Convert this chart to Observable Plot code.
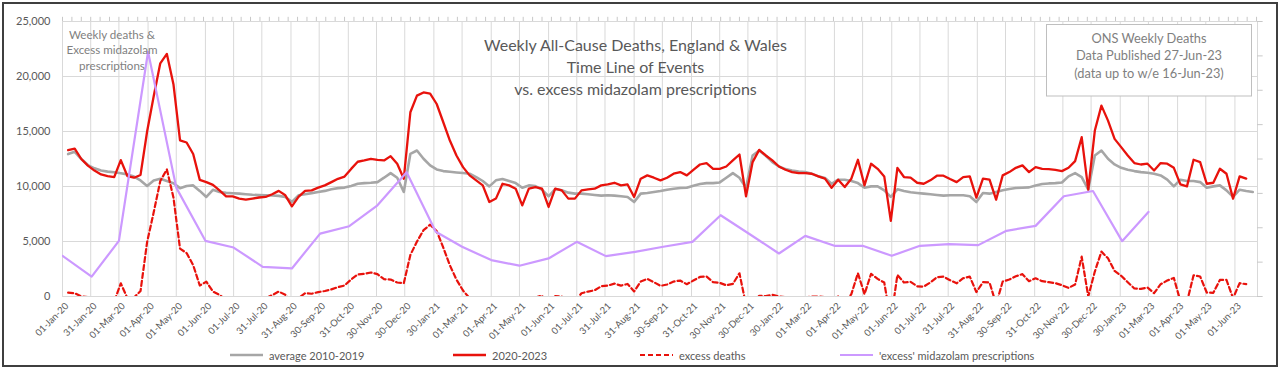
<!DOCTYPE html>
<html>
<head>
<meta charset="utf-8">
<script src="https://cdn.jsdelivr.net/npm/d3@7"></script>
<script src="https://cdn.jsdelivr.net/npm/@observablehq/plot@0.6"></script>
<style>
  html, body { margin: 0; padding: 0; background: #fff; }
  #wrap { position: relative; width: 1280px; height: 369px; overflow: hidden; font-family: Lato, sans-serif; }
  #chart { position: absolute; left: 0; top: 0; }
  #frame { position: absolute; left: 2px; top: 2px; width: 1276px; height: 365px; box-sizing: border-box; border: 2px solid #3f3f3f; pointer-events: none; }
  #legend { position: absolute; left: 0; top: 345px; width: 1280px; height: 20px; font-size: 11px; color: #595959; }
  #legend .item { position: absolute; top: 0; height: 20px; display: flex; align-items: center; white-space: nowrap; }
  #legend svg { margin-right: 6px; }
  #notes { position: absolute; left: 0; top: 0; pointer-events: none; }
</style>
</head>
<body>
<div id="wrap">
  <div id="chart"></div>
  <svg id="notes" width="1280" height="345"></svg>
  <div id="legend"></div>
  <div id="frame"></div>
</div>
<script>
// ---------------- data ----------------
// weekly registrations, first week ending 10-Jan-2020
const firstWeekEnding = "2020-01-10";

const deaths2020to2023 = [
  13300,13450,12500,11900,11450,11100,10950,10850,12400,10950,
  10800,11050,15000,18200,21200,22050,19300,14200,14000,12950,
  10600,10400,10150,9650,9100,9100,8900,8800,8900,9000,
  9050,9300,9600,9200,8200,9050,9600,9650,9900,10100,
  10400,10700,10900,11600,12250,12370,12520,12430,12370,12760,
  12070,10710,16750,18260,18550,18450,17500,15840,14180,12820,
  11760,11010,10560,10100,8590,8900,10250,10100,9800,8290,
  9800,9950,9800,8140,9800,9650,8900,8900,9650,9740,
  9800,10100,10190,10340,10100,10190,9050,10710,11010,10800,
  10560,10800,11160,11310,11010,11520,12000,12130,11610,11610,
  11820,12370,12910,9110,12220,13330,12820,12370,11820,11520,
  11310,11220,11220,11160,10920,10710,9890,10620,9950,10710,
  12430,10100,12070,11610,10920,6870,11700,10860,10800,10340,
  10250,10560,10980,10980,10680,10400,10860,10920,8990,10710,
  10620,8800,11010,11310,11700,11920,11310,11760,11610,11580,
  11520,11400,11700,12310,14480,9710,15090,17350,15990,14330,
  13580,12820,12130,12000,12070,11460,12130,12070,11700,10190,
  10010,12430,12220,10250,10340,11610,11160,8900,10920,10710
];

const average2010to2019 = [
  12950,13150,12500,11950,11650,11450,11350,11300,11200,11100,
  10900,10550,10050,10550,10700,10500,10300,9850,10050,10100,
  9600,9050,9700,9500,9420,9380,9350,9300,9250,9220,
  9200,9180,9150,9050,8600,9200,9300,9400,9500,9600,
  9750,9850,9900,10050,10250,10310,10340,10400,10800,11220,
  10800,9500,12970,13270,12520,11920,11550,11400,11340,11280,
  11220,11160,10860,10500,10010,10560,10680,10500,10310,9890,
  10100,10040,9710,9110,9770,9650,9440,9350,9350,9290,
  9230,9170,9200,9170,9110,9050,8590,9350,9410,9500,
  9590,9710,9800,9860,9890,10070,10220,10310,10310,10370,
  10800,11220,10800,9890,12820,13270,12790,12220,11820,11580,
  11460,11370,11310,11160,10920,10770,10250,10620,10620,10500,
  10310,9890,10010,10010,9650,9050,9740,9590,9470,9410,
  9350,9290,9230,9170,9200,9200,9200,9110,8590,9410,
  9350,9500,9650,9770,9860,9890,9920,10100,10220,10280,
  10310,10370,10920,11220,10860,9710,12820,13270,12520,12010,
  11700,11520,11400,11310,11250,11160,11010,10620,10010,10620,
  10500,10500,10400,9890,10010,10100,9650,9050,9710,9590,
  9500
];

const excessDeaths = [
  350,300,0,-50,-200,-350,-400,-450,1200,-150,
  -100,500,4950,7650,10500,11550,9000,4350,3950,2850,
  1000,1350,450,150,-320,-280,-450,-500,-350,-220,
  -150,120,450,150,-400,-150,300,250,400,500,
  650,850,1000,1550,2000,2060,2180,2030,1570,1540,
  1270,1210,3780,4990,6030,6530,5950,4440,2840,1540,
  540,-150,-300,-400,-1420,-1660,-430,-400,-510,-1600,
  -300,-90,90,-970,30,0,-540,-450,300,450,
  570,930,990,1170,990,1140,460,1360,1600,1300,
  970,1090,1360,1450,1120,1450,1780,1820,1300,1240,
  1020,1150,2110,-780,-600,60,30,150,0,-60,
  -150,-150,-90,0,0,-60,-360,0,-670,210,
  2120,210,2060,1600,1270,-2180,1960,1270,1330,930,
  900,1270,1750,1810,1480,1200,1660,1810,400,1300,
  1270,-700,1360,1540,1840,2030,1390,1660,1390,1300,
  1210,1030,780,1090,3620,0,2270,4080,3470,2320,
  1880,1300,730,690,820,300,1120,1450,1690,-430,
  -490,1930,1820,360,330,1510,1510,-150,1210,1120
];

// monthly 'excess' midazolam prescriptions, Jan-2020 .. Mar-2023
const firstMonth = "2020-01-01";
const midazolamExcess = [
  3700,1800,5060,22250,9900,5060,4450,2700,2550,5720,6390,8290,
  11300,5880,4520,3310,2800,3460,4970,3670,4060,4520,4970,7390,
  5660,3910,5510,4610,4610,3700,4610,4760,4670,5970,6420,9110,
  9590,5030,7690
];

const xTickLabels = [
  "01-Jan-20","31-Jan-20","01-Mar-20","01-Apr-20","01-May-20","01-Jun-20","01-Jul-20","31-Jul-20",
  "31-Aug-20","30-Sep-20","31-Oct-20","30-Nov-20","30-Dec-20","30-Jan-21","01-Mar-21","01-Apr-21",
  "01-May-21","01-Jun-21","01-Jul-21","31-Jul-21","31-Aug-21","30-Sep-21","31-Oct-21","30-Nov-21",
  "30-Dec-21","30-Jan-22","01-Mar-22","01-Apr-22","01-May-22","01-Jun-22","01-Jul-22","31-Jul-22",
  "31-Aug-22","30-Sep-22","31-Oct-22","30-Nov-22","30-Dec-22","30-Jan-23","01-Mar-23","01-Apr-23",
  "01-May-23","01-Jun-23"
];
const yTicks = [0, 5000, 10000, 15000, 20000, 25000];
// unlabeled secondary (right) axis: 8 equal divisions
const rightAxisTicks = [0, 3125, 6250, 9375, 12500, 15625, 18750, 21875, 25000];
// unlabeled secondary (top) date axis: a tick every 10 days
const topTickEveryDays = 10;

const seriesNames = ["average 2010-2019", "2020-2023", "excess deaths", "'excess' midazolam prescriptions"];
const titleLines = ["Weekly All-Cause Deaths, England & Wales", "Time Line of Events", "vs. excess midazolam prescriptions"];
const noteLines = ["Weekly deaths &", "Excess midazolam", "prescriptions"];
const boxLines = ["ONS Weekly Deaths", "Data Published 27-Jun-23", "(data up to w/e 16-Jun-23)"];

// ---------------- build tables ----------------
const parseLabel = d3.utcParse("%d-%b-%y");
const xTickDates = xTickLabels.map(parseLabel);
const xTickRows = xTickLabels.map(s => ({date: parseLabel(s), label: s}));
const xStart = new Date(Date.UTC(2020, 0, 1));
const xEnd = new Date(Date.UTC(2023, 5, 25));
const topTicks = d3.utcDay.every(1).range(xStart, xEnd).filter((d, i) => i % topTickEveryDays === 0);
const w0 = new Date(firstWeekEnding + "T00:00:00Z");
// Excel category axis centres each week in its slot: plot at mid-week
const weekPos = i => d3.utcDay.offset(w0, 7 * i - 3);
const avgRows = average2010to2019.map((v, i) => ({date: weekPos(i), value: v}));
const deathRows = deaths2020to2023.map((v, i) => ({date: weekPos(i), value: v}));
const excessRows = excessDeaths.map((v, i) => ({date: weekPos(i), value: v}));
const m0 = new Date(firstMonth + "T00:00:00Z");
const midRows = midazolamExcess.map((v, i) => ({date: d3.utcMonth.offset(m0, i), value: v}));

const colors = {avg: "#a6a6a6", deaths: "#e8120c", excess: "#e8120c", mid: "#cc99ff", grid: "#d9d9d9", text: "#595959"};

const chart = Plot.plot({
  width: 1280,
  height: 345,
  marginLeft: 62,
  marginRight: 23,
  marginTop: 21,
  marginBottom: 49,
  style: {fontFamily: "Lato, sans-serif", fontSize: "11px", color: colors.text, background: "transparent"},
  x: {type: "utc", domain: [xStart, xEnd], axis: null},
  y: {domain: [0, 25000], axis: null},
  marks: [
    Plot.gridX(xTickDates, {stroke: colors.grid, strokeOpacity: 1, strokeWidth: 1}),
    Plot.gridY(yTicks, {stroke: colors.grid, strokeOpacity: 1, strokeWidth: 1}),
    Plot.ruleX([xEnd], {stroke: colors.grid, strokeWidth: 1}),
    Plot.ruleY(rightAxisTicks, {x1: xEnd, x2: d3.utcDay.offset(xEnd, 6), stroke: "#c8c8c8", strokeWidth: 1}),
    Plot.ruleX(topTicks, {y1: 25000, y2: 25380, stroke: "#c8c8c8", strokeWidth: 1}),
    Plot.axisY(yTicks, {tickSize: 0, tickPadding: 12, tickFormat: d3.format(","), fontSize: 11, fill: colors.text, label: null}),
    Plot.text(xTickRows, {x: "date", text: "label", frameAnchor: "bottom", rotate: -45, textAnchor: "end", lineAnchor: "middle", dx: 4.5, dy: 8, fontSize: 9.5, fill: colors.text}),
    Plot.line(avgRows, {x: "date", y: "value", stroke: colors.avg, strokeWidth: 2.6, strokeLinejoin: "round", clip: true}),
    Plot.line(deathRows, {x: "date", y: "value", stroke: colors.deaths, strokeWidth: 2.3, strokeLinejoin: "round", clip: true}),
    Plot.line(excessRows, {x: "date", y: "value", stroke: colors.excess, strokeWidth: 2.2, strokeDasharray: "5,3", strokeLinejoin: "round", clip: true}),
    Plot.line(midRows, {x: "date", y: "value", stroke: colors.mid, strokeWidth: 2.2, strokeLinejoin: "round", clip: true})
  ]
});
document.getElementById("chart").appendChild(chart);

// ---------------- annotations ----------------
const notes = d3.select("#notes");
notes.append("g").attr("font-family", "Lato, sans-serif").attr("font-size", 16).attr("fill", colors.text).attr("text-anchor", "middle")
  .selectAll("text").data(titleLines).join("text")
  .attr("x", 635.5).attr("y", (d, i) => 51 + i * 22).text(d => d);
notes.append("g").attr("font-family", "Lato, sans-serif").attr("font-size", 11.6).attr("fill", "#7f7f7f").attr("text-anchor", "middle")
  .selectAll("text").data(noteLines).join("text")
  .attr("x", 112).attr("y", (d, i) => 38.5 + i * 15.5).text(d => d);
notes.append("rect").attr("x", 1046.5).attr("y", 24.5).attr("width", 205).attr("height", 71.5)
  .attr("fill", "#fff").attr("stroke", "#bfbfbf").attr("stroke-width", 1);
notes.append("g").attr("font-family", "Lato, sans-serif").attr("font-size", 12.8).attr("fill", "#7f7f7f").attr("text-anchor", "middle")
  .selectAll("text").data(boxLines).join("text")
  .attr("x", 1149).attr("y", (d, i) => 43 + i * 17.3).text(d => d);

// ---------------- legend ----------------
const legendItems = [
  {name: seriesNames[0], stroke: colors.avg, width: 2.6, dash: null, left: 230},
  {name: seriesNames[1], stroke: colors.deaths, width: 2.3, dash: null, left: 453},
  {name: seriesNames[2], stroke: colors.excess, width: 2.2, dash: "5,3", left: 640},
  {name: seriesNames[3], stroke: colors.mid, width: 2.2, dash: null, left: 840}
];
const legend = d3.select("#legend");
legendItems.forEach(it => {
  const div = legend.append("div").attr("class", "item").style("left", it.left + "px");
  const s = div.append("svg").attr("width", 33).attr("height", 6);
  s.append("line").attr("x1", 0).attr("x2", 33).attr("y1", 3).attr("y2", 3)
    .attr("stroke", it.stroke).attr("stroke-width", it.width).attr("stroke-dasharray", it.dash);
  div.append("span").text(it.name);
});
</script>
</body>
</html>
